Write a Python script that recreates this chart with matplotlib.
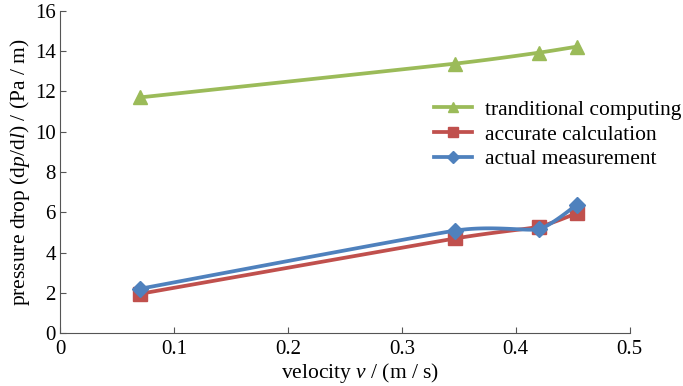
import matplotlib
matplotlib.use('Agg')
import matplotlib.pyplot as plt
import numpy as np

plt.rcParams['font.family'] = 'Liberation Serif'
plt.rcParams['mathtext.fontset'] = 'custom'
plt.rcParams['mathtext.rm'] = 'Liberation Serif'
plt.rcParams['mathtext.it'] = 'Liberation Serif:italic'

# data
velocity = [0.07, 0.347, 0.42, 0.4535]
traditional = [11.7, 13.38, 13.92, 14.22]
accurate = [1.95, 4.7, 5.28, 5.95]
measured = [2.2, 5.09, 5.16, 6.37]

labels = ['tranditional computing', 'accurate calculation', 'actual measurement']
colors = ['#9BBB59', '#C0504D', '#4F81BD']
markers = ['^', 's', 'D']
msizes = [10, 9.5, 8.5]


# smoothed line like a spreadsheet "smooth line" (Catmull-Rom through the points)
def smooth(ax, xs, ys, n=40, k=11):
    pts = ax.transData.transform(np.column_stack([xs, ys]))
    pts = np.vstack([pts[0], pts, pts[-1]])
    out = []
    for i in range(1, len(pts) - 2):
        p0, p1, p2, p3 = pts[i - 1], pts[i], pts[i + 1], pts[i + 2]
        c1 = p1 + (p2 - p0) / k
        c2 = p2 - (p3 - p1) / k
        t = np.linspace(0, 1, n)[:, None]
        seg = ((1 - t) ** 3) * p1 + 3 * ((1 - t) ** 2) * t * c1 + 3 * (1 - t) * t ** 2 * c2 + t ** 3 * p2
        out.append(seg)
    out = np.vstack(out)
    data = ax.transData.inverted().transform(out)
    return data[:, 0], data[:, 1]


fig = plt.figure(figsize=(6.83, 3.86), dpi=100)
ax = fig.add_axes([0.088, 0.137, 0.834, 0.835])
ax.set_xlim(0, 0.5)
ax.set_ylim(0, 16)

for ys, lab, c, m, ms in zip([traditional, accurate, measured], labels, colors, markers, msizes):
    sx, sy = smooth(ax, velocity, ys)
    ax.plot(sx, sy, color=c, lw=2.7, solid_capstyle='round')
    ax.plot(velocity, ys, ls='none', marker=m, ms=ms, color=c)
    ax.plot([], [], color=c, lw=2.7, marker=m, ms=ms * 0.75, label=lab)

ax.set_xticks([0, 0.1, 0.2, 0.3, 0.4, 0.5])
ax.set_xticklabels(['0', '0.1', '0.2', '0.3', '0.4', '0.5'])
ax.set_yticks(range(0, 17, 2))
ax.tick_params(direction='in', length=4, width=0.8, labelsize=15, color='#555555')
ax.tick_params(axis='x', pad=5)
ax.tick_params(axis='y', pad=3)
for s in ['top', 'right']:
    ax.spines[s].set_visible(False)
for s in ['left', 'bottom']:
    ax.spines[s].set_color('#555555')
    ax.spines[s].set_linewidth(0.8)

ax.set_xlabel(r'velocity $\mathit{v}$ / (m / s)', fontsize=15.5, labelpad=0)
ax.xaxis.set_label_coords(0.526, -0.085)
ax.set_ylabel(r'pressure drop (d$\mathit{p}$/d$\mathit{l}$) / (Pa / m)', fontsize=15.5, labelpad=2)

ax.legend(loc='upper left', bbox_to_anchor=(0.638, 0.757), frameon=False, fontsize=15.5,
          handlelength=1.75, handletextpad=0.6, labelspacing=0.21, borderpad=0)

plt.savefig('out.png', dpi=100)
